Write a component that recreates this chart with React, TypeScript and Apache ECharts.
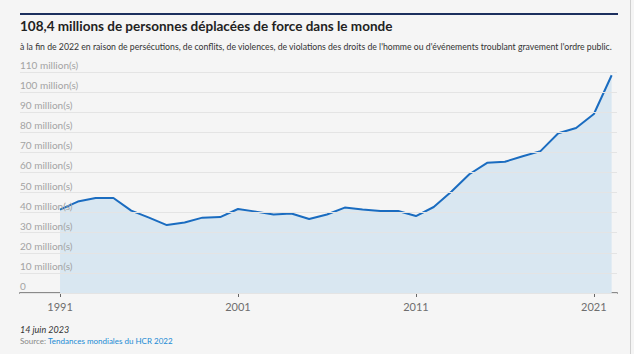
import React, { useEffect, useRef } from "react";
import * as echarts from "echarts";

const years = Array.from({ length: 32 }, (_, i) => 1991 + i);
const displaced = [
  41.5, 45.5, 47.3, 47.3, 41.0, 37.5, 33.8, 35.1, 37.5, 37.8, 41.8, 40.5, 39.1, 39.6, 36.8, 39.1,
  42.5, 41.6, 40.8, 40.8, 38.3, 42.8, 50.5, 59.1, 64.8, 65.3, 68.1, 70.6, 79.5, 82.1, 89.1, 108.4,
];
const xTickYears = [1991, 2001, 2011, 2021];
const title = "108,4 millions de personnes déplacées de force dans le monde";
const subtitle =
  "à la fin de 2022 en raison de persécutions, de conflits, de violences, de violations des droits de l'homme ou d'événements troublant gravement l'ordre public.";
const dateText = "14 juin 2023";
const sourceLabel = "Source: ";
const sourceLink = "Tendances mondiales du HCR 2022";

export default function App() {
  const ref = useRef<HTMLDivElement>(null);
  useEffect(() => {
    const chart = echarts.init(ref.current!, null, { renderer: "svg" });
    const font = "Lato, 'Noto Sans', sans-serif";
    chart.setOption({
      animation: false,
      backgroundColor: "#f5f5f5",
      textStyle: { fontFamily: font },
      grid: { left: 20, right: 17, top: 72, bottom: 61, containLabel: false },
      xAxis: {
        type: "value",
        min: 1988.75,
        max: 2022.3,
        splitLine: { show: false },
        axisLine: { show: true, lineStyle: { color: "#8a8a8a", width: 2 } },
        axisTick: { show: true, customValues: xTickYears, length: 4, lineStyle: { color: "#666", width: 1 } },
        axisLabel: {
          customValues: xTickYears,
          color: "#6e6e6e",
          fontSize: 11,
          margin: 8,
          fontFamily: font,
          formatter: (v: number) => String(v),
        },
      },
      yAxis: {
        type: "value",
        min: 0,
        max: 110,
        interval: 10,
        axisLine: { show: false },
        axisTick: { show: false },
        splitLine: { show: true, lineStyle: { color: "#e4e4e4", width: 1 } },
        axisLabel: {
          inside: true,
          margin: 0,
          verticalAlign: "bottom",
          padding: [0, 0, 2, 0],
          color: "#a3a3a3",
          fontSize: 10,
          fontFamily: font,
          formatter: (v: number) => (v === 0 ? "0" : `${v} million(s)`),
        },
        z: 5,
      },
      series: [
        {
          type: "line",
          data: years.map((y, i) => [y, displaced[i]]),
          symbol: "none",
          lineStyle: { color: "#1a6cc0", width: 2 },
          areaStyle: { color: "#d9e7f1", opacity: 1 },
          z: 2,
        },
      ],
      graphic: [
        { type: "line", shape: { x1: 20, y1: 14, x2: 618, y2: 14 }, style: { stroke: "#1c2f5e", lineWidth: 2 } },
        { type: "line", shape: { x1: 630.5, y1: 0, x2: 630.5, y2: 354 }, style: { stroke: "#cfcfcf", lineWidth: 1 } },
        {
          type: "text",
          left: 20,
          top: 19,
          style: { text: title, fill: "#222", font: `bold 13.5px ${font}` },
        },
        {
          type: "text",
          left: 20,
          top: 42,
          style: { text: subtitle, fill: "#333", font: `8.7px ${font}` },
        },
        {
          type: "text",
          left: 20,
          top: 325,
          style: { text: dateText, fill: "#333", font: `italic 9px ${font}` },
        },
        {
          type: "text",
          left: 20,
          top: 337,
          style: {
            text: `{a|${sourceLabel}}{b|${sourceLink}}`,
            rich: {
              a: { fill: "#888", fontSize: 8, fontFamily: font },
              b: { fill: "#1a8ad4", fontSize: 8, fontFamily: font },
            },
          },
        },
      ],
    });
    return () => chart.dispose();
  }, []);
  return <div ref={ref} style={{ position: "fixed", left: 0, top: 0, width: 634, height: 354 }} />;
}
